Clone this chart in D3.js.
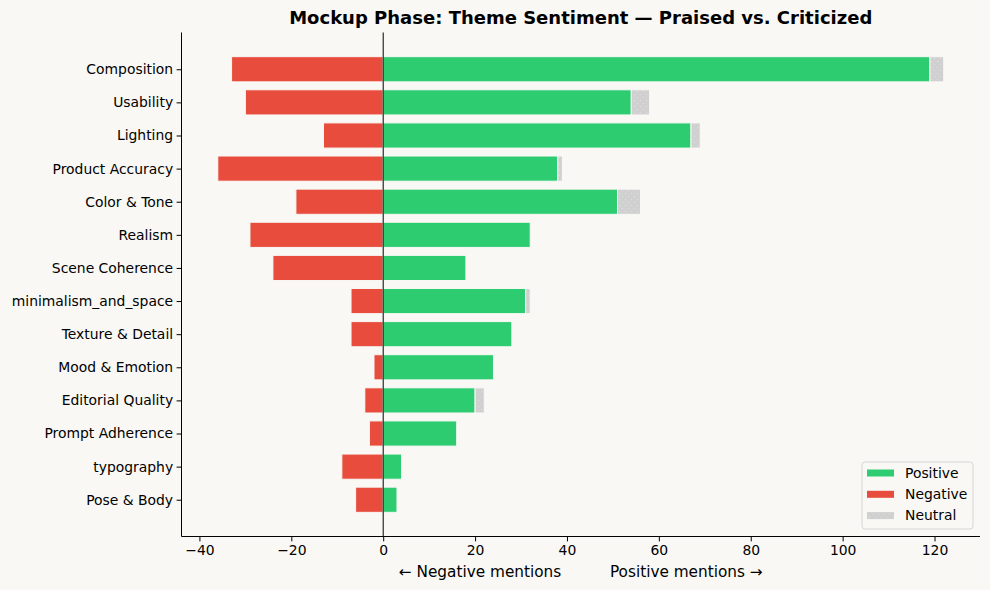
<!DOCTYPE html>
<html>
<head>
<meta charset="UTF-8">
<title>Mockup Phase: Theme Sentiment</title>
<script src="https://cdn.jsdelivr.net/npm/d3@7"></script>
<style>
  body { margin: 0; background: #f9f8f5; }
  svg { display: block; font-family: "DejaVu Sans", sans-serif; }
</style>
</head>
<body>
<div id="chart"></div>
<script>
// theme data
const themes = ["Composition", "Usability", "Lighting", "Product Accuracy", "Color & Tone",
  "Realism", "Scene Coherence", "minimalism_and_space", "Texture & Detail", "Mood & Emotion",
  "Editorial Quality", "Prompt Adherence", "typography", "Pose & Body"];
const positive = [119, 54, 67, 38, 51, 32, 18, 31, 28, 24, 20, 16, 4, 3];
const negative = [33, 30, 13, 36, 19, 29, 24, 7, 7, 2, 4, 3, 9, 6];
const neutral  = [3, 4, 2, 1, 5, 0, 0, 1, 0, 0, 2, 0, 0, 0];
const xTicks = [-40, -20, 0, 20, 40, 60, 80, 100, 120];

const W = 990, H = 590;
const m = {left: 181.5, right: 10, top: 32.5, bottom: 53.5};

const svg = d3.select("#chart").append("svg")
    .attr("width", W).attr("height", H);

svg.append("rect").attr("width", W).attr("height", H).attr("fill", "#f9f8f5");

const defs = svg.append("defs");
const pat = defs.append("pattern")
    .attr("id", "dots").attr("patternUnits", "userSpaceOnUse")
    .attr("width", 6).attr("height", 6);
pat.append("rect").attr("width", 6).attr("height", 6).attr("fill", "#d0d0d0");
pat.append("circle").attr("cx", 1.5).attr("cy", 1.5).attr("r", 0.6).attr("fill", "#e2e2e2");
pat.append("circle").attr("cx", 4.5).attr("cy", 4.5).attr("r", 0.6).attr("fill", "#e2e2e2");

const x = d3.scaleLinear().domain([-43.9, 129.9]).range([m.left, W - m.right]);
const y = d3.scaleLinear().domain([-1.11, themes.length - 1 + 1.11]).range([m.top, H - m.bottom]);
const bh = 0.76;

const g = svg.append("g");

// negative bars
g.selectAll(".neg").data(themes).join("rect")
    .attr("x", (d, i) => x(-negative[i]))
    .attr("width", (d, i) => x(0) - x(-negative[i]))
    .attr("y", (d, i) => y(i - bh / 2))
    .attr("height", y(bh) - y(0))
    .attr("fill", "#e74c3c").attr("stroke", "#f9f8f5").attr("stroke-width", 1);

// positive bars
g.selectAll(".pos").data(themes).join("rect")
    .attr("x", x(0))
    .attr("width", (d, i) => x(positive[i]) - x(0))
    .attr("y", (d, i) => y(i - bh / 2))
    .attr("height", y(bh) - y(0))
    .attr("fill", "#2ecc71").attr("stroke", "#f9f8f5").attr("stroke-width", 1);

// neutral bars stacked after positive
g.selectAll(".neu").data(themes.filter((d, i) => neutral[i] > 0)).join("rect")
    .each(function(d) {
      const i = themes.indexOf(d);
      d3.select(this)
        .attr("x", x(positive[i]))
        .attr("width", x(positive[i] + neutral[i]) - x(positive[i]))
        .attr("y", y(i - bh / 2))
        .attr("height", y(bh) - y(0));
    })
    .attr("fill", "url(#dots)").attr("stroke", "#f9f8f5").attr("stroke-width", 1);

// zero line
svg.append("line")
    .attr("x1", x(0)).attr("x2", x(0))
    .attr("y1", m.top).attr("y2", H - m.bottom)
    .attr("stroke", "#000").attr("stroke-width", 1);

// axes
const xAxis = svg.append("g")
    .attr("transform", `translate(0,${H - m.bottom})`)
    .call(d3.axisBottom(x).tickValues(xTicks).tickSize(4.9).tickPadding(3.5)
      .tickFormat(d => d < 0 ? "\u2212" + Math.abs(d) : d));
const yAxis = svg.append("g")
    .attr("transform", `translate(${m.left},0)`)
    .call(d3.axisLeft(y).tickValues(d3.range(themes.length)).tickSize(4.9).tickPadding(3.5)
      .tickFormat(i => themes[i]));

[xAxis, yAxis].forEach(a => {
  a.select(".domain").attr("stroke", "#000").attr("stroke-width", 1);
  a.selectAll(".tick line").attr("stroke", "#000").attr("stroke-width", 1);
  a.selectAll(".tick text").attr("fill", "#000").style("font-size", "13.9px")
    .style("font-family", "DejaVu Sans, sans-serif");
});
// only keep domain ends at the axes extent (no outer ticks)
xAxis.select(".domain").attr("d", `M${m.left},0H${W - m.right}`);
yAxis.select(".domain").attr("d", `M0,${m.top}V${H - m.bottom}`);

// x label
svg.append("text")
    .attr("x", (m.left + W - m.right) / 2).attr("y", H - 13)
    .attr("text-anchor", "middle")
    .style("font-size", "15.3px")
    .style("white-space", "pre")
    .attr("xml:space", "preserve")
    .text("\u2190 Negative mentions          Positive mentions \u2192");

// title
svg.append("text")
    .attr("x", (m.left + W - m.right) / 2).attr("y", 24)
    .attr("text-anchor", "middle")
    .style("font-size", "18px").style("font-weight", "bold")
    .text("Mockup Phase: Theme Sentiment \u2014 Praised vs. Criticized");

// legend
const legendItems = [
  {label: "Positive", fill: "#2ecc71"},
  {label: "Negative", fill: "#e74c3c"},
  {label: "Neutral", fill: "url(#dots)"}
];
const lg = svg.append("g").attr("transform", "translate(862,462)");
lg.append("rect").attr("width", 111).attr("height", 67).attr("rx", 3)
    .attr("fill", "#f9f8f5").attr("fill-opacity", 0.8)
    .attr("stroke", "#d6d6d6").attr("stroke-width", 1);
lg.selectAll(".item").data(legendItems).join("g")
    .attr("transform", (d, i) => `translate(0,${11 + i * 21.3})`)
    .each(function(d) {
      const s = d3.select(this);
      s.append("rect").attr("x", 5).attr("y", -3.5).attr("width", 27).attr("height", 7).attr("fill", d.fill);
      s.append("text").attr("x", 43).attr("y", 4.8).style("font-size", "13.9px").text(d.label);
    });
</script>
</body>
</html>
